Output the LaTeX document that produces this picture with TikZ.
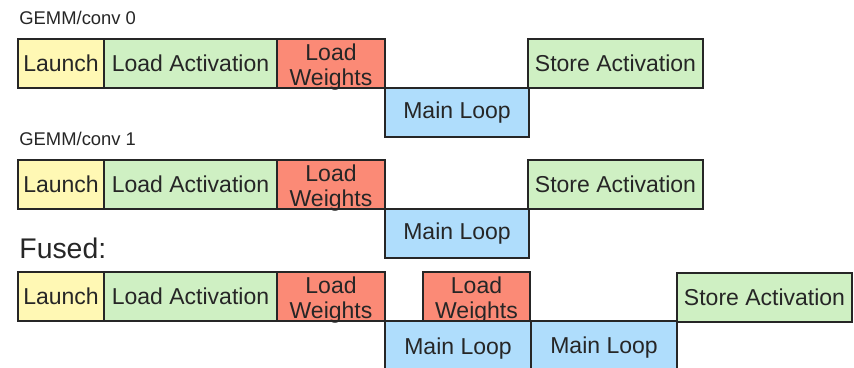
\documentclass[tikz,border=0pt]{standalone}
\usepackage{fontspec}
\setmainfont{Liberation Sans}
\definecolor{launchc}{HTML}{FFF8B4}
\definecolor{actc}{HTML}{CFF0C3}
\definecolor{wtsc}{HTML}{FB8A76}
\definecolor{loopc}{HTML}{AFDDFC}
\begin{document}
\begin{tikzpicture}[x=0.5pt, y=-0.5pt,
  box/.style={draw=black!85, line width=0.8pt, anchor=north west, inner sep=0pt, outer sep=0pt,
    minimum height=24.5pt, text=black!85, font=\fontsize{11.5}{12.5}\selectfont},
  launch/.style={box, fill=launchc, minimum width=43pt},
  actv/.style={box, fill=actc, minimum width=86.5pt},
  store/.style={box, fill=actc, minimum width=87.5pt},
  wts/.style={box, fill=wtsc, minimum width=54pt, align=center, text height=21.6pt, text depth=0pt},
  mainloop/.style={box, fill=loopc, minimum width=72pt},
  lbl/.style={anchor=west, inner sep=0pt, text=black!85, font=\fontsize{9.2}{11}\selectfont}]
\useasboundingbox (0,0) rectangle (854,368);
% GEMM/conv 0
\node[lbl] (t0) at (19,18) {GEMM/conv 0};
\node[launch] (la0) at (18,39) {Launch};
\node[actv] (ac0) at (104,39) {Load Activation};
\node[wts] (wt0) at (277,39) {Load\\Weights};
\node[mainloop] (ml0) at (385,88) {Main Loop};
\node[store] (st0) at (528,39) {Store Activation};
% GEMM/conv 1
\node[lbl] (t1) at (19,139) {GEMM/conv 1};
\node[launch] (la1) at (18,160) {Launch};
\node[actv] (ac1) at (104,160) {Load Activation};
\node[wts] (wt1) at (277,160) {Load\\Weights};
\node[mainloop] (ml1) at (385,209) {Main Loop};
\node[store] (st1) at (528,160) {Store Activation};
% fused
\node[lbl, font=\fontsize{14.2}{16}\selectfont] (tf) at (19,248) {Fused:};
\node[launch] (laf) at (18,272) {Launch};
\node[actv] (acf) at (104,272) {Load Activation};
\node[wts] (wtf) at (277,272) {Load\\Weights};
\node[wts, minimum width=53.5pt] (wtg) at (423,272) {Load\\Weights};
\node[mainloop, minimum width=73pt, minimum height=28pt] (mlf) at (385,321) {Main Loop};
\node[mainloop, minimum width=73pt, minimum height=27pt] (mlg) at (531,321) {Main Loop};
\node[store] (stf) at (677,273) {Store Activation};
\end{tikzpicture}
\end{document}
